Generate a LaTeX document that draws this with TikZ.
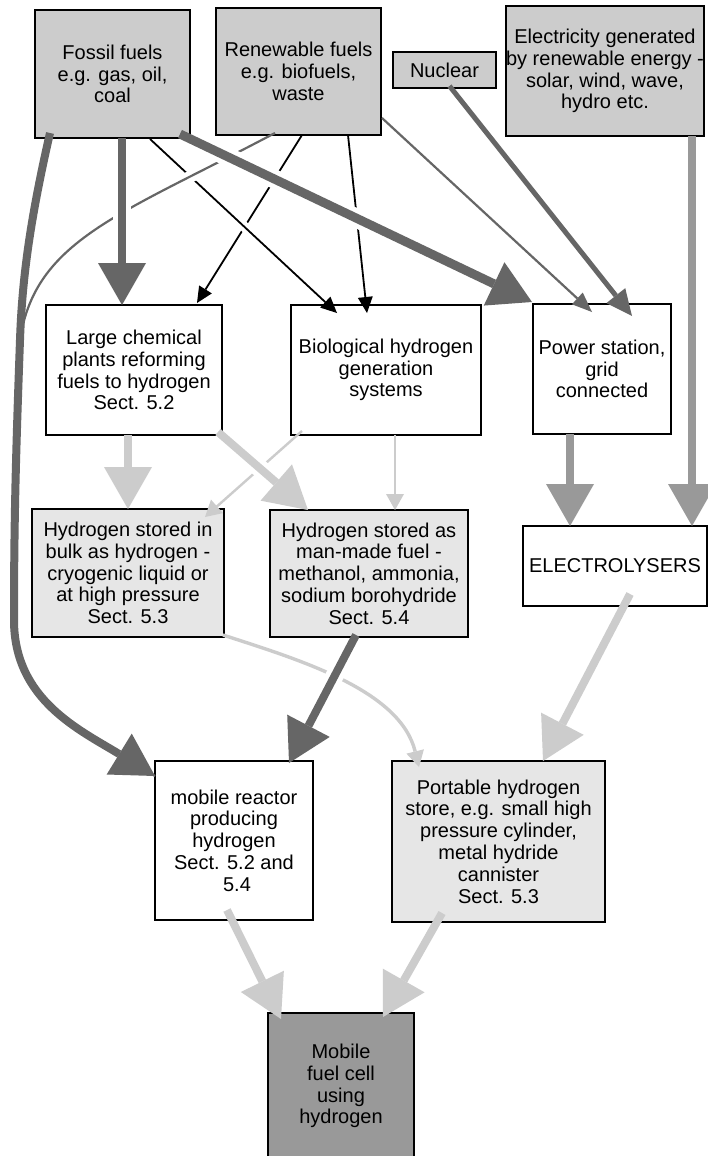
\documentclass[tikz,border=0pt]{standalone}
\usepackage{fontspec}
\setmainfont{Liberation Sans}
\usepackage{tikz}
\usetikzlibrary{arrows.meta,calc}
\definecolor{srcgray}{HTML}{CCCCCC}
\definecolor{storegray}{HTML}{E6E6E6}
\definecolor{cellgray}{HTML}{999999}
\definecolor{darkflow}{HTML}{666666}
\definecolor{midflow}{HTML}{999999}
\definecolor{lightflow}{HTML}{CCCCCC}

\begin{document}
\begin{tikzpicture}[
  x=1pt, y=-1pt,
  every node/.style={font=\fontsize{20}{21.8}\selectfont},
  box/.style={rectangle, draw, line width=1.2pt, inner sep=0pt, outer sep=0pt,
    align=center},
  src/.style={box, fill=srcgray},
  store/.style={box, fill=storegray},
  plain/.style={box, fill=white},
  cellbox/.style={box, fill=cellgray},
  flowbig/.style={line width=8pt, -{Triangle[length=42pt,width=48pt,line width=0pt]}},
  darkbig/.style={flowbig, draw=darkflow},
  midbig/.style={flowbig, draw=midflow},
  lightbig/.style={flowbig, draw=lightflow},
  blackthin/.style={line width=1.8pt, draw=black,
    -{Triangle[length=16pt,width=15pt,line width=0pt]}},
  greythin/.style={line width=2.2pt, draw=darkflow,
    -{Triangle[length=20pt,width=16pt,line width=0pt]}},
  lightthin/.style={line width=2.4pt, draw=lightflow,
    -{Triangle[length=16pt,width=18pt,line width=0pt]}},
  halo/.style 2 args={preaction={draw=white, -, line width=#1,
    shorten <=20pt, shorten >=#2}},
]
  \useasboundingbox[fill=white] (0,0) rectangle (708,1156);

  %% Row 1: primary energy sources
  \node[src, minimum width=155pt, minimum height=128pt] (fossil) at (112.5,74)
    {Fossil fuels\\e.g. gas, oil,\\coal};
  \node[src, minimum width=165pt, minimum height=127pt] (renew) at (298.5,71.5)
    {Renewable fuels\\e.g. biofuels,\\waste};
  \node[src, minimum width=103pt, minimum height=36pt] (nuclear) at (444.5,70)
    {Nuclear};
  \node[src, minimum width=198pt, minimum height=130pt] (elec) at (605,71)
    {Electricity generated\\by renewable energy -\\solar, wind, wave,\\hydro etc.};

  %% Row 2: conversion plants
  \node[plain, minimum width=176pt, minimum height=130pt] (chem) at (134,370)
    {Large chemical\\plants reforming\\fuels to hydrogen\\Sect. 5.2};
  \node[plain, minimum width=190pt, minimum height=130pt] (bio) at (386,370)
    {Biological hydrogen\\generation\\systems};
  \node[plain, minimum width=138pt, minimum height=130pt] (power) at (602,369)
    {Power station,\\grid\\connected};

  %% Row 3: bulk storage and electrolysis
  \node[store, minimum width=192pt, minimum height=128pt] (bulk) at (128,573)
    {Hydrogen stored in\\bulk as hydrogen -\\cryogenic liquid or\\at high pressure\\Sect. 5.3};
  \node[store, minimum width=198pt, minimum height=127pt] (fuel) at (369,573.5)
    {Hydrogen stored as\\man-made fuel -\\methanol, ammonia,\\sodium borohydride\\Sect. 5.4};
  \node[plain, minimum width=184pt, minimum height=80pt] (electro) at (615,566)
    {ELECTROLYSERS};

  %% Row 4: on-board supply
  \node[plain, minimum width=158pt, minimum height=159pt] (reactor) at (234,840.5)
    {mobile reactor\\producing\\hydrogen\\Sect. 5.2 and\\\hspace*{0.3em}5.4};
  \node[store, minimum width=213pt, minimum height=161pt] (portable) at (498.5,841.5)
    {Portable hydrogen\\store, e.g. small high\\pressure cylinder,\\metal hydride\\cannister\\Sect. 5.3};

  %% Row 5: fuel cell
  \node[cellbox, minimum width=146pt, minimum height=146pt] (cell) at (341,1086)
    {Mobile\\fuel cell\\using\\hydrogen};

  %% Thin black links
  \draw[blackthin, halo={10pt}{20pt}] ($(renew.south)+(3.5,0)$) -- ($(chem.north east)+(-25,-2)$);
  \draw[blackthin, halo={10pt}{20pt}] ($(fossil.south)+(37.5,1)$) -- ($(bio.north west)+(46,8)$);
  \draw[blackthin] ($(renew.south)+(49.5,0)$) -- ($(bio.north)+(-19,8)$);

  %% Thin grey links
  \draw[greythin] ($(renew.east)+(1,46.5)$) -- ($(power.north)+(-10,8)$);
  \draw[line width=2.2pt, draw=darkflow, halo={12pt}{30pt}]
    ($(renew.south west)+(59,-2)$) .. controls (120,215) and (35,240) .. (20,340)
    .. controls (16,450) and (14,520) .. (14,620)
    .. controls (14,700) and (80,730) .. ($(reactor.north west)+(0,15)$);

  %% Thin light links
  \draw[lightthin] ($(bio.south)+(9,0)$) -- ($(fuel.north)+(26,0)$);
  \draw[lightthin] ($(bio.south west)+(11,-4)$) -- ($(bulk.north east)+(-19,8)$);
  \draw[lightthin, line width=3.4pt] ($(bulk.south east)+(-1,-2)$)
    .. controls (300,660) and (400,690) .. ($(portable.north west)+(27,6)$);

  %% Thick dark flows
  \draw[darkbig] ($(fossil.south west)+(15,-5)$) .. controls (30,220) and (22,280) .. (20,340)
    .. controls (16,450) and (14,520) .. (14,620)
    .. controls (14,700) and (80,730) .. ($(reactor.north west)+(0,15)$);
  \draw[darkbig, halo={18pt}{46pt}] ($(fossil.south)+(9.5,0)$) -- ($(chem.north)+(-12,0)$);
  \draw[darkbig, line width=9pt, halo={19pt}{46pt}] ($(fossil.south east)+(-10,-4)$)
    -- ($(power.north west)+(-1,-2)$);
  \draw[darkbig, halo={18pt}{46pt}] ($(fuel.south)+(-13,-2)$) -- ($(reactor.north east)+(-24,2)$);
  \draw[line width=5pt, draw=darkflow, -{Triangle[length=26pt,width=24pt,line width=0pt]}]
    ($(nuclear.south)+(5,-2)$) -- ($(power.north)+(30,12)$);

  %% Electricity into electrolysers
  \draw[midbig] ($(power.south)+(-32,0)$) -- ($(electro.north)+(-45,0)$);
  \draw[midbig] ($(elec.south)+(87,0)$) -- ($(electro.north)+(77,0)$);

  %% Hydrogen flows
  \draw[lightbig] ($(chem.south)+(-6,0)$) -- (bulk.north);
  \draw[lightbig, halo={18pt}{46pt}] ($(chem.south east)+(-4,-3)$) -- ($(fuel.north west)+(38,0)$);
  \draw[lightbig] ($(electro.south)+(15,-12)$) -- ($(portable.north)+(44.5,0)$);
  \draw[lightbig] ($(reactor.south)+(-7,-10)$) -- ($(cell.north)+(-60,6)$);
  \draw[lightbig] ($(portable.south)+(-56.5,-9)$) -- ($(cell.north)+(42,4)$);
\end{tikzpicture}
\end{document}
